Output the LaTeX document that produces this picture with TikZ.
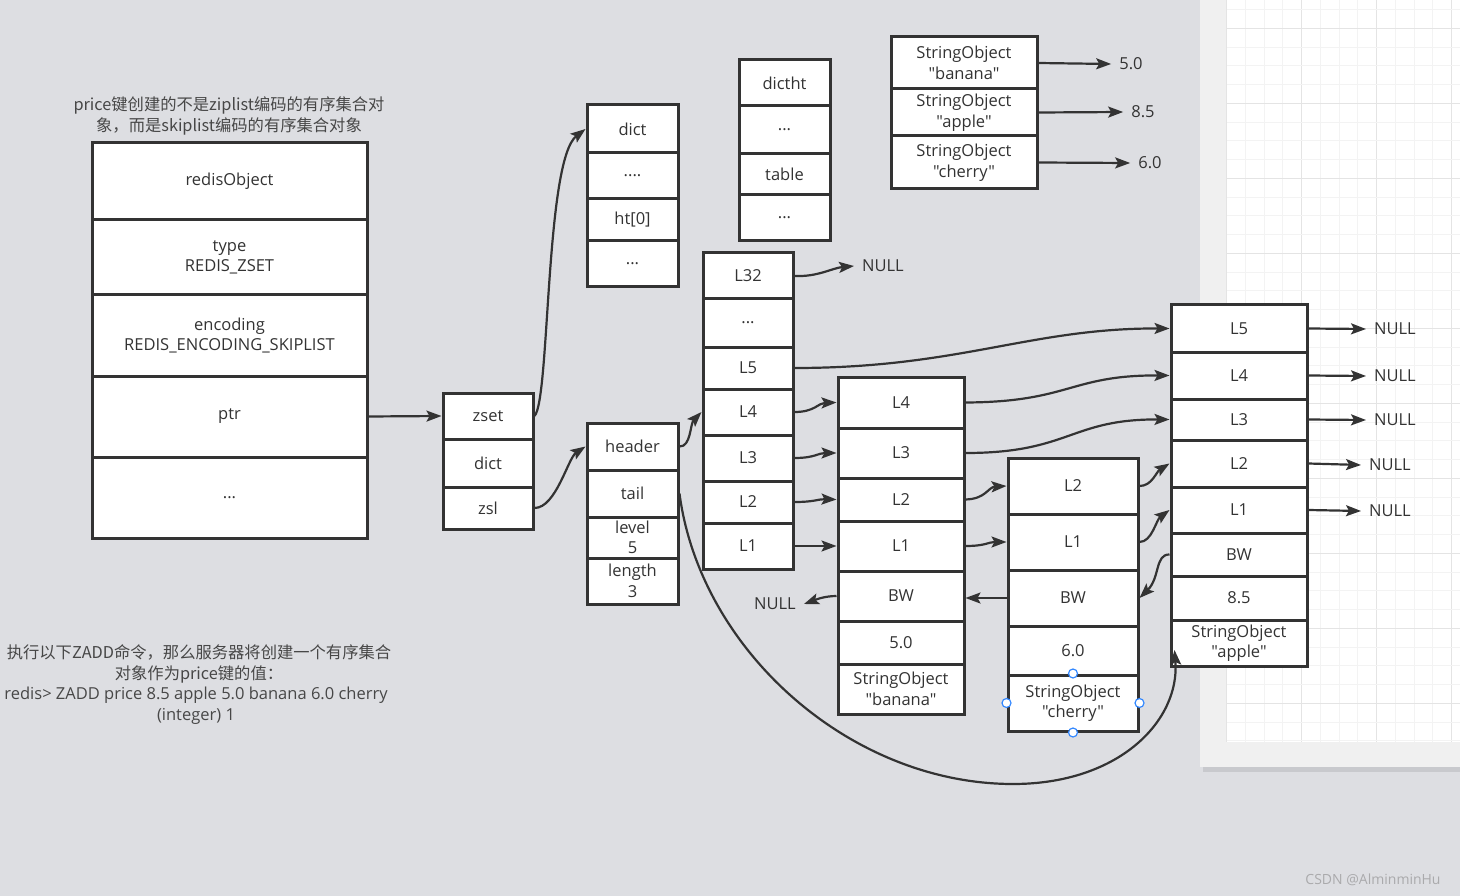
\documentclass[tikz,border=0pt]{standalone}
\usepackage{fontspec}
\setmainfont{Open Sans}[Ligatures=TeXOff]
\newfontfamily\cjk{Noto Sans CJK SC}[Ligatures=TeXOff]
\usetikzlibrary{arrows.meta}
\definecolor{bgc}{RGB}{221,222,226}
\definecolor{inkc}{RGB}{51,51,51}
\definecolor{handlec}{RGB}{51,136,255}
\definecolor{gridmin}{RGB}{243,243,243}
\definecolor{gridmaj}{RGB}{228,228,228}
\definecolor{panelc}{RGB}{240,240,240}
\definecolor{shadowc}{RGB}{200,201,205}
\definecolor{markc}{RGB}{170,170,172}
\newcommand\mkcell[6]{\node[cellbox, minimum width={(#3-#2)*1pt}, minimum height={(#5-#4)*1pt}] (#1) at ({(#2+#3)/2},{(#4+#5)/2}) {#6};}
\begin{document}
\begin{tikzpicture}[x=1pt,y=-1pt,
  every node/.style={font=\fontsize{16.5pt}{20.5pt}\selectfont, text=inkc},
  cellbox/.style={draw=inkc, fill=white, line width=3pt, inner sep=0pt, align=center},
  conn/.style={draw=inkc, line width=2.2pt, -{Stealth[length=15pt,width=11pt,inset=3pt]}},
  nulltxt/.style={inner xsep=8pt, inner ysep=0pt},
  capt/.style={align=center, font=\cjk\fontsize{16.3pt}{21pt}\selectfont, text=inkc!90},
  captl/.style={align=center, font=\fontsize{16.5pt}{21pt}\selectfont, text=inkc!90}]
\useasboundingbox (0,0) rectangle (1460,896);
\fill[bgc] (0,0) rectangle (1460,896);
% grid paper panel
\fill[shadowc] (1203,766) rectangle (1460,772);
\fill[panelc] (1200,0) rectangle (1460,767);
\fill[white] (1226.7,0) rectangle (1460,742);
\foreach \i in {0,...,12}{
  \pgfmathsetmacro\xx{1226.7+\i*18.75}
  \pgfmathtruncatemacro\mm{mod(\i,4)}
  \ifnum\mm=0 \draw[gridmaj,line width=1pt] (\xx,0) -- (\xx,742);
  \else \draw[gridmin,line width=1pt] (\xx,0) -- (\xx,742); \fi}
\foreach \j in {0,...,39}{
  \pgfmathsetmacro\yy{9.55+\j*18.75}
  \pgfmathtruncatemacro\mm{mod(\j+3,4)}
  \ifnum\mm=0 \draw[gridmaj,line width=1pt] (1226.7,\yy) -- (1460,\yy);
  \else \draw[gridmin,line width=1pt] (1226.7,\yy) -- (1460,\yy); \fi}

% captions
\node[capt] (cap1) at (229,115.5) {price键创建的不是ziplist编码的有序集合对\\象，而是skiplist编码的有序集合对象};
\node[capt] (cap2) at (199,663.5) {执行以下ZADD命令，那么服务器将创建一个有序集合\\对象作为price键的值：};
\node[captl] (cap3) at (196,706) {redis> ZADD price 8.5 apple 5.0 banana 6.0 cherry\\(integer) 1};
\node[font=\fontsize{14pt}{16pt}\selectfont, text=markc] (wm) at (1373,880) {CSDN @AlminminHu};

% redisObject
\mkcell{r0}{92}{367}{143}{220}{redisObject}
\mkcell{r1}{92}{367}{220}{295}{type\\REDIS\_ZSET}
\mkcell{r2}{92}{367}{295}{376}{encoding\\REDIS\_ENCODING\_SKIPLIST}
\mkcell{r3}{92}{367}{376}{457}{ptr}
\mkcell{r4}{92}{367}{457}{538}{...}
% zset
\mkcell{z0}{443}{533}{393}{439}{zset}
\mkcell{z1}{443}{533}{439}{487}{dict}
\mkcell{z2}{443}{533}{487}{529}{zsl}
% dict
\mkcell{d0}{587}{678}{105}{153}{dict}
\mkcell{d1}{587}{678}{153}{199}{....}
\mkcell{d2}{587}{678}{199}{241}{ht[0]}
\mkcell{d3}{587}{678}{241}{287}{...}
% dictht
\mkcell{t0}{739}{830}{60}{106}{dictht}
\mkcell{t1}{739}{830}{106}{154}{...}
\mkcell{t2}{739}{830}{154}{195}{table}
\mkcell{t3}{739}{830}{195}{241}{...}
% string objects
\mkcell{s0}{891}{1037}{37}{89}{StringObject\\"banana"}
\mkcell{s1}{891}{1037}{89}{136}{StringObject\\"apple"}
\mkcell{s2}{891}{1037}{136}{189}{StringObject\\"cherry"}
% zskiplist
\mkcell{h0}{587}{678}{423}{470}{header}
\mkcell{h1}{587}{678}{470}{517}{tail}
\mkcell{h2}{587}{678}{517}{558}{level\\5}
\mkcell{h3}{587}{678}{558}{604}{length\\3}
% header node
\mkcell{n0}{703}{793}{253}{299}{L32}
\mkcell{n1}{703}{793}{299}{347}{...}
\mkcell{n2}{703}{793}{347}{389}{L5}
\mkcell{n3}{703}{793}{389}{435}{L4}
\mkcell{n4}{703}{793}{435}{481}{L3}
\mkcell{n5}{703}{793}{481}{523}{L2}
\mkcell{n6}{703}{793}{523}{569}{L1}
% banana node
\mkcell{b0}{838}{964}{377}{428}{L4}
\mkcell{b1}{838}{964}{428}{478}{L3}
\mkcell{b2}{838}{964}{478}{521}{L2}
\mkcell{b3}{838}{964}{521}{571}{L1}
\mkcell{b4}{838}{964}{571}{621}{BW}
\mkcell{b5}{838}{964}{621}{664}{5.0}
\mkcell{b6}{838}{964}{664}{714}{StringObject\\"banana"}
% cherry node
\mkcell{c0}{1008}{1138}{458}{514}{L2}
\mkcell{c1}{1008}{1138}{514}{570}{L1}
\mkcell{c2}{1008}{1138}{570}{626}{BW}
\mkcell{c3}{1008}{1138}{626}{675}{6.0}
\mkcell{c4}{1008}{1138}{675}{731}{StringObject\\"cherry"}
% apple node
\mkcell{a0}{1171}{1307}{305}{352}{L5}
\mkcell{a1}{1171}{1307}{352}{399}{L4}
\mkcell{a2}{1171}{1307}{399}{440}{L3}
\mkcell{a3}{1171}{1307}{440}{487}{L2}
\mkcell{a4}{1171}{1307}{487}{533}{L1}
\mkcell{a5}{1171}{1307}{533}{576}{BW}
\mkcell{a6}{1171}{1307}{576}{620}{8.5}
\mkcell{a7}{1171}{1307}{620}{666}{StringObject\\"apple"}

% text end points
\node[nulltxt] (v50) at (1131,64) {5.0};
\node[nulltxt] (v85) at (1143,112) {8.5};
\node[nulltxt] (v60) at (1150,163) {6.0};
\node[nulltxt] (nl32) at (883,266) {NULL};
\node[nulltxt] (nbw) at (775,604) {NULL};
\node[nulltxt] (na0) at (1395,329) {NULL};
\node[nulltxt] (na1) at (1395,376) {NULL};
\node[nulltxt] (na2) at (1395,420) {NULL};
\node[nulltxt] (na3) at (1390,465) {NULL};
\node[nulltxt] (na4) at (1390,511) {NULL};

% connectors
\draw[conn] (r3.east) -- (z0.west);
\draw[conn] (z0.east) .. controls (550,400) and (545,160) .. (d0.west);
\draw[conn] (z2.east) .. controls (556,508) and (568,458) .. (h0.west);
\draw[conn] (h0.east) .. controls (691,447) and (690,424) .. (n3.west);
\draw[conn] (h1.east) .. controls (700,650) and (850,784) .. (1013,784)
  .. controls (1120,784) and (1180,720) .. ([xshift=5pt,yshift=-7pt]a7.west);
\draw[conn] (s0.east) -- (v50.west);
\draw[conn] (s1.east) -- (v85.west);
\draw[conn] (s2.east) -- (v60.west);
\draw[conn] (n0.east) .. controls (818,277) and (832,268) .. (nl32.west);
\draw[conn] (n2.east) .. controls (960,368) and (1030,328) .. (a0.west);
\draw[conn] (n3.east) .. controls (815,412) and (818,403) .. (b0.west);
\draw[conn] (n4.east) .. controls (815,458) and (818,453) .. (b1.west);
\draw[conn] (n5.east) .. controls (815,502) and (818,499) .. (b2.west);
\draw[conn] (n6.east) -- (b3.west);
\draw[conn] (b0.east) .. controls (1070,402) and (1070,375) .. (a1.west);
\draw[conn] (b1.east) .. controls (1070,453) and (1070,419) .. (a2.west);
\draw[conn] (b2.east) .. controls (986,499) and (988,487) .. (c0.west);
\draw[conn] (b3.east) .. controls (986,546) and (988,542) .. (c1.west);
\draw[conn] (b4.west) .. controls (824,596) and (815,600) .. (nbw.east);
\draw[conn] (c2.west) -- (c2.west -| b4.east);
\draw[conn] (c0.east) .. controls (1152,486) and (1156,472) .. (a3.west);
\draw[conn] (c1.east) .. controls (1152,542) and (1156,520) .. (a4.west);
\draw[conn] (a5.west) .. controls (1155,554) and (1160,578) .. (c2.east);
\draw[conn] (a0.east) -- (na0.west);
\draw[conn] (a1.east) -- (na1.west);
\draw[conn] (a2.east) -- (na2.west);
\draw[conn] (a3.east) -- (na3.west);
\draw[conn] (a4.east) -- (na4.west);

% selection handles
\foreach \a in {north,south,east,west}
  \draw[handlec, fill=white, line width=1.2pt] (c4.\a) circle (4.5pt);
\end{tikzpicture}
\end{document}
